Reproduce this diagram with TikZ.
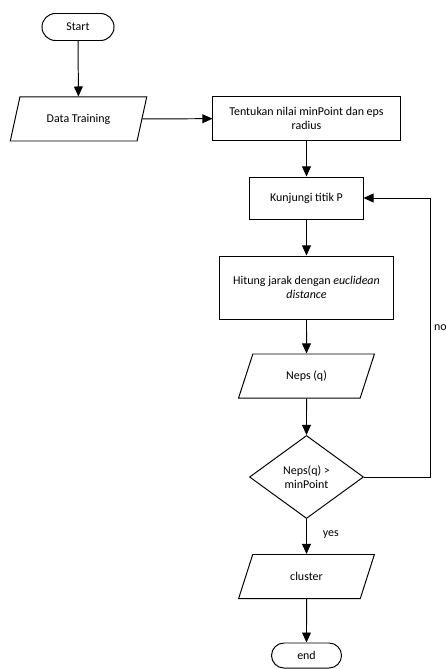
\documentclass[tikz,border=0pt]{standalone}
\usepackage{fontspec}
\setmainfont{Carlito}
\usetikzlibrary{shapes.geometric,shapes.misc,arrows.meta}
\begin{document}
\begin{tikzpicture}[x=0.025cm,y=-0.025cm,
        font=\fontsize{8.5}{10}\selectfont,
        garis/.style={line width=0.7pt},
        panah/.style={garis,-{Triangle[length=2.5mm,width=2.2mm]}},
        terminal/.style={rounded rectangle,draw,garis,inner sep=0pt},
        proses/.style={rectangle,draw,garis,align=center,inner sep=0pt},
        masukan/.style={trapezium,trapezium left angle=63,trapezium right angle=117,
            trapezium stretches=true,draw,garis,inner sep=0pt},
        keputusan/.style={diamond,draw,garis,align=center,inner sep=0pt}]
        \useasboundingbox (0,0) rectangle (446,669);
        % --- simboli --------------------------------------------------------
        \node[terminal,minimum width=1.8cm,minimum height=0.675cm] (start) at (78,27) {Start};
        \node[masukan,minimum width=3.425cm,minimum height=1.1cm] (data) at (78.5,119) {Data Training};
        \node[proses,minimum width=4.675cm,minimum height=1.075cm] (tentukan) at (306.5,118.5)
            {Tentukan nilai minPoint dan eps\\radius};
        \node[proses,minimum width=2.825cm,minimum height=1.05cm] (kunjungi) at (306.5,198) {Kunjungi titik P};
        \node[proses,minimum width=4.325cm,minimum height=1.575cm] (hitung) at (306.5,287.5)
            {Hitung jarak dengan \textit{euclidean}\\\textit{distance}};
        \node[masukan,minimum width=3.4cm,minimum height=1.1cm] (neps) at (306.5,376) {Neps (q)};
        \node[keputusan,minimum width=2.85cm,minimum height=2.075cm] (cek) at (306.5,477)
            {Neps(q) >\\minPoint};
        \node[masukan,minimum width=3.4cm,minimum height=1.1cm] (cluster) at (306.5,576.5) {cluster};
        \node[terminal,minimum width=1.75cm,minimum height=0.625cm] (end) at (306.5,655.5) {end};
        % --- collegamenti ---------------------------------------------------
        \draw[panah] (start) -- (data);
        \draw[panah] (data) -- (tentukan);
        \draw[panah] (tentukan) -- (kunjungi);
        \draw[panah] (kunjungi) -- (hitung);
        \draw[panah] (hitung) -- (neps);
        \draw[panah] (neps) -- (cek);
        \draw[panah] (cek) -- node[pos=0.45,right=8pt] (ya) {yes} (cluster);
        \draw[panah] (cluster) -- (end);
        \draw[panah] (cek.east) -- ++(66,0) |- (kunjungi.east)
            node[pos=0.267,right=1.5pt,inner sep=1pt] (tidak) {no};
\end{tikzpicture}
\end{document}
